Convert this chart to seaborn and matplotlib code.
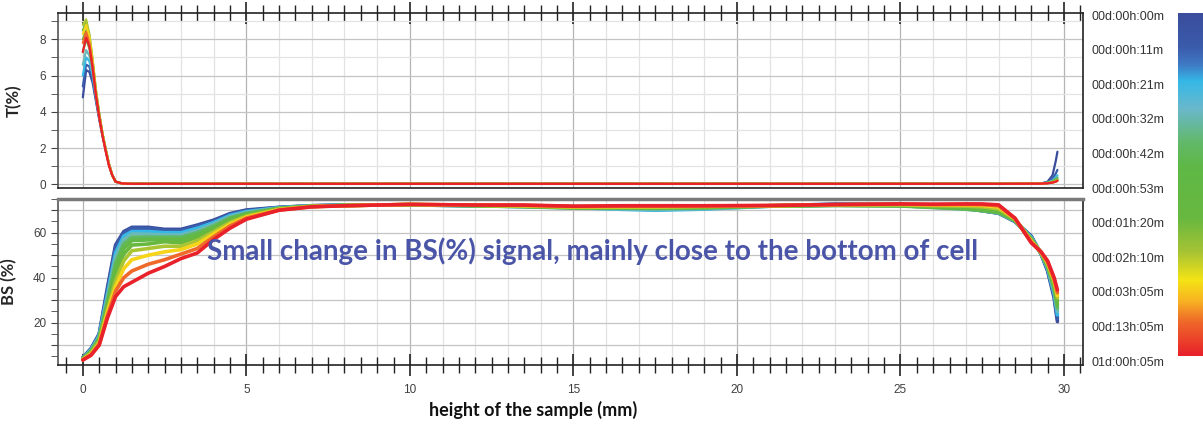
import numpy as np
import pandas as pd
import matplotlib
matplotlib.use("Agg")
import matplotlib.pyplot as plt
import seaborn as sns
from matplotlib.colors import LinearSegmentedColormap
from matplotlib.ticker import MultipleLocator, FuncFormatter

# scan times (colour scale, top = first scan)
time_labels = ["00d:00h:00m", "00d:00h:11m", "00d:00h:21m", "00d:00h:32m",
               "00d:00h:42m", "00d:00h:53m", "00d:01h:20m", "00d:02h:10m",
               "00d:03h:05m", "00d:13h:05m", "01d:00h:05m"]

# backscattering profiles, height in mm
bs_x = [0, 0.25, 0.5, 0.75, 1.0, 1.25, 1.5, 2.0, 2.5, 3.0, 3.5, 4.0, 4.5, 5.0,
        6.0, 7.0, 8.0, 10.0, 12.0, 13.5, 15.0, 16.5, 17.5, 19.0, 21.0, 23.0,
        25.0, 26.0, 27.0, 27.5, 28.0, 28.5, 29.0, 29.3, 29.5, 29.7, 29.8]
bs_00m = [4.5, 8.5, 15.0, 35.4, 54.5, 60.5, 62.4, 62.4, 61.5, 61.5, 63.4, 65.6, 68.5, 70.1, 71.3, 72.0, 72.3, 72.3, 72.1, 72.0, 71.6, 71.5, 71.5, 71.6, 72.0, 72.7, 72.6, 72.0, 71.0, 69.8, 68.7, 65.0, 58.5, 50.5, 43.0, 31.0, 20.5]
bs_11m = [4.4, 8.3, 14.6, 34.0, 53.5, 60.0, 62.0, 62.0, 61.0, 61.0, 63.0, 65.2, 68.2, 69.8, 71.2, 72.0, 72.3, 72.3, 72.1, 71.9, 71.5, 71.2, 71.0, 71.2, 71.9, 72.6, 72.5, 71.8, 70.9, 69.8, 68.7, 65.0, 58.3, 50.6, 43.5, 32.0, 22.0]
bs_21m = [4.3, 8.0, 14.2, 32.5, 51.0, 58.5, 60.5, 60.5, 60.0, 60.0, 62.0, 64.5, 67.7, 69.4, 71.1, 71.9, 72.2, 72.4, 72.0, 71.6, 71.2, 70.4, 70.0, 70.5, 71.8, 72.3, 72.2, 71.5, 70.7, 69.9, 68.8, 65.2, 58.0, 50.7, 44.0, 33.0, 23.5]
bs_32m = [4.2, 7.7, 13.7, 31.0, 49.0, 57.0, 59.5, 59.3, 59.0, 59.0, 61.0, 63.8, 67.2, 69.0, 71.0, 71.9, 72.2, 72.4, 72.0, 71.5, 71.0, 70.6, 70.3, 70.7, 71.8, 72.2, 72.0, 71.3, 70.5, 69.8, 68.8, 65.3, 57.7, 50.8, 44.5, 34.0, 25.0]
bs_42m = [4.1, 7.4, 13.2, 29.5, 46.5, 55.0, 58.0, 58.0, 58.0, 58.0, 60.0, 63.0, 66.6, 68.6, 70.9, 71.8, 72.2, 72.4, 72.0, 71.6, 71.0, 70.9, 70.8, 71.0, 71.8, 72.1, 71.9, 71.2, 70.5, 69.8, 68.9, 65.4, 57.4, 50.9, 45.0, 35.0, 26.5]
bs_53m = [4.0, 7.1, 12.7, 28.0, 44.0, 53.0, 56.5, 56.8, 57.0, 57.0, 59.0, 62.2, 66.0, 68.2, 70.8, 71.8, 72.1, 72.5, 72.1, 71.7, 71.1, 71.0, 71.0, 71.2, 71.9, 72.2, 72.0, 71.4, 70.8, 70.2, 69.2, 65.6, 57.1, 51.0, 45.3, 36.0, 28.0]
bs_01h20m = [3.9, 6.8, 12.2, 27.0, 41.0, 50.5, 54.5, 55.0, 56.0, 55.5, 58.0, 61.5, 65.3, 67.8, 70.6, 71.7, 72.1, 72.5, 72.1, 71.8, 71.3, 71.2, 71.2, 71.4, 71.9, 72.3, 72.2, 71.7, 71.3, 70.8, 69.8, 65.8, 56.8, 51.1, 45.7, 37.0, 29.5]
bs_02h10m = [3.8, 6.5, 11.6, 25.5, 38.5, 47.5, 52.0, 53.0, 54.0, 54.0, 56.5, 60.5, 64.6, 67.4, 70.5, 71.7, 72.1, 72.5, 72.2, 71.9, 71.4, 71.4, 71.4, 71.6, 72.0, 72.4, 72.4, 72.0, 71.8, 71.5, 70.6, 66.0, 56.5, 51.2, 46.2, 38.0, 31.0]
bs_03h05m = [3.6, 6.1, 11.0, 24.5, 36.0, 44.0, 48.0, 50.0, 51.5, 52.5, 55.0, 59.5, 63.8, 67.0, 70.3, 71.6, 72.0, 72.6, 72.2, 72.0, 71.5, 71.6, 71.6, 71.8, 72.0, 72.4, 72.6, 72.3, 72.3, 72.1, 71.4, 66.2, 56.2, 51.3, 46.6, 38.7, 32.0]
bs_13h05m = [3.5, 5.8, 10.5, 23.0, 34.0, 40.0, 43.0, 46.0, 48.0, 50.5, 53.0, 58.2, 63.0, 66.5, 70.1, 71.6, 72.0, 72.6, 72.3, 72.2, 71.7, 71.8, 71.8, 71.9, 72.1, 72.5, 72.7, 72.5, 72.6, 72.5, 72.0, 66.4, 55.8, 51.4, 47.0, 39.4, 33.3]
bs_01d00h05m = [3.4, 5.5, 10.0, 22.0, 31.6, 36.0, 38.0, 42.0, 45.0, 48.5, 51.0, 57.0, 62.0, 66.0, 70.0, 71.5, 72.0, 72.6, 72.3, 72.3, 71.8, 72.0, 72.0, 72.0, 72.1, 72.5, 72.8, 72.7, 72.8, 72.8, 72.4, 66.5, 55.5, 51.5, 47.5, 40.0, 34.5]

# transmission profiles
t_x = [0, 0.1, 0.2, 0.3, 0.4, 0.5, 0.6, 0.7, 0.8, 0.9, 1.0, 1.2, 1.5,
       28.0, 29.3, 29.5, 29.65, 29.75, 29.8]
t_00m = [4.8, 6.3, 6.2, 5.6, 4.6, 3.6, 2.7, 1.9, 1.1, 0.5, 0.15, 0.05, 0.03, 0.03, 0.05, 0.15, 0.5, 1.3, 1.8]
t_11m = [5.4, 6.6, 6.5, 5.8, 4.7, 3.7, 2.7, 1.9, 1.1, 0.5, 0.15, 0.05, 0.03, 0.03, 0.05, 0.1, 0.3, 0.6, 0.8]
t_21m = [6.0, 7.0, 6.8, 6.0, 4.8, 3.7, 2.7, 1.9, 1.1, 0.5, 0.15, 0.05, 0.03, 0.03, 0.05, 0.1, 0.2, 0.4, 0.5]
t_32m = [6.6, 7.4, 7.1, 6.2, 4.9, 3.8, 2.8, 1.9, 1.1, 0.5, 0.15, 0.05, 0.03, 0.03, 0.04, 0.1, 0.2, 0.3, 0.4]
t_42m = [7.3, 8.0, 7.5, 6.4, 5.0, 3.8, 2.8, 1.9, 1.1, 0.5, 0.15, 0.05, 0.03, 0.03, 0.04, 0.08, 0.15, 0.3, 0.35]
t_53m = [8.0, 8.5, 7.9, 6.6, 5.1, 3.9, 2.8, 1.9, 1.1, 0.5, 0.15, 0.05, 0.03, 0.03, 0.04, 0.08, 0.15, 0.25, 0.3]
t_01h20m = [8.5, 8.9, 8.2, 6.8, 5.2, 3.9, 2.8, 1.9, 1.1, 0.5, 0.15, 0.05, 0.03, 0.03, 0.04, 0.08, 0.12, 0.2, 0.25]
t_02h10m = [8.8, 9.1, 8.3, 6.9, 5.2, 3.9, 2.8, 1.9, 1.1, 0.5, 0.15, 0.05, 0.03, 0.03, 0.04, 0.07, 0.12, 0.2, 0.25]
t_03h05m = [8.3, 8.8, 8.1, 6.8, 5.1, 3.8, 2.8, 1.9, 1.1, 0.5, 0.15, 0.05, 0.03, 0.03, 0.04, 0.07, 0.1, 0.15, 0.2]
t_13h05m = [7.8, 8.4, 7.8, 6.6, 5.0, 3.8, 2.7, 1.9, 1.1, 0.5, 0.15, 0.05, 0.03, 0.03, 0.04, 0.06, 0.1, 0.15, 0.2]
t_01d00h05m = [7.3, 8.1, 7.6, 6.4, 4.9, 3.7, 2.7, 1.8, 1.0, 0.5, 0.15, 0.05, 0.03, 0.03, 0.04, 0.06, 0.1, 0.15, 0.2]

bs_profiles = [bs_00m, bs_11m, bs_21m, bs_32m, bs_42m, bs_53m,
               bs_01h20m, bs_02h10m, bs_03h05m, bs_13h05m, bs_01d00h05m]
t_profiles = [t_00m, t_11m, t_21m, t_32m, t_42m, t_53m,
              t_01h20m, t_02h10m, t_03h05m, t_13h05m, t_01d00h05m]

# long tables for seaborn
df_bs = pd.concat([pd.DataFrame({"height": bs_x, "BS": p, "time": lab})
                   for p, lab in zip(bs_profiles, time_labels)])
df_t = pd.concat([pd.DataFrame({"height": t_x, "T": p, "time": lab})
                  for p, lab in zip(t_profiles, time_labels)])

sns.set_style("white")
plt.rcParams["font.family"] = ["Liberation Sans", "DejaVu Sans"]

# rainbow scale like the instrument software
cmap = LinearSegmentedColormap.from_list("scan", [
    (0.0, "#3a4d9c"), (0.1, "#3b5bab"), (0.15, "#3f78c4"), (0.2, "#35b8e6"),
    (0.28, "#6ab9cc"), (0.38, "#62b868"), (0.45, "#5fb946"), (0.6, "#68b840"),
    (0.7, "#a8c434"), (0.78, "#f4e415"), (0.84, "#f8b422"), (0.9, "#ef6a2a"),
    (1.0, "#e8212a")])
colors = [cmap(i / (len(time_labels) - 1)) for i in range(len(time_labels))]

fig = plt.figure(figsize=(12.03, 4.26), dpi=100)
ax_t = fig.add_axes([0.0482, 0.5587, 0.852, 0.4108])
ax_bs = fig.add_axes([0.0482, 0.1432, 0.852, 0.3897])

sns.lineplot(data=df_t, x="height", y="T", hue="time", hue_order=time_labels,
             palette=colors, estimator=None, legend=False, linewidth=1.6, ax=ax_t)
sns.lineplot(data=df_bs, x="height", y="BS", hue="time", hue_order=time_labels,
             palette=colors, estimator=None, legend=False, linewidth=2.6, ax=ax_bs)

for ax in (ax_t, ax_bs):
    ax.set_xlim(-0.76, 30.58)
    ax.xaxis.set_major_locator(MultipleLocator(5))
    ax.xaxis.set_minor_locator(MultipleLocator(0.5))
    ax.set_xlabel("")
    ax.grid(which="major", axis="x", color="#b4b4b4", lw=0.9)
    for v in range(0, 31):
        if v % 5:
            ax.axvline(v, color="#e2e2e2", lw=0.9, zorder=0)
    ax.tick_params(axis="y", which="both", direction="out", length=5,
                   color="#444444", labelsize=8.5, labelcolor="#404040", left=True)
    ax.set_axisbelow(True)
    for s in ax.spines.values():
        s.set_color("#222222")
        s.set_linewidth(1.2)

# top panel: transmission
ax_t.set_ylim(-0.2, 9.45)
ax_t.yaxis.set_major_locator(MultipleLocator(2))
ax_t.yaxis.set_minor_locator(MultipleLocator(1))
ax_t.grid(which="major", axis="y", color="#c4c4c4", lw=0.9)
ax_t.grid(which="minor", axis="y", color="#e4e4e4", lw=0.9)
ax_t.tick_params(axis="x", which="both", direction="inout", top=True,
                 bottom=False, labelbottom=False, color="#222222")
ax_t.tick_params(axis="x", which="major", length=16, width=1.2)
ax_t.tick_params(axis="x", which="minor", length=11, width=1.0)
ax_t.set_ylabel("T(%)", fontsize=12, fontweight="bold", family="Lato")
ax_t.yaxis.set_label_coords(-0.035, 0.5)
ax_t.spines["left"].set_color("#555555")

# bottom panel: backscattering
ax_bs.set_ylim(1.2, 75)
ax_bs.yaxis.set_major_locator(MultipleLocator(10))
ax_bs.yaxis.set_minor_locator(MultipleLocator(5))
ax_bs.yaxis.set_major_formatter(
    FuncFormatter(lambda v, p: f"{v:.0f}" if v > 0 and int(round(v)) % 20 == 0 else ""))
ax_bs.grid(which="major", axis="y", color="#c4c4c4", lw=0.9)
ax_bs.tick_params(axis="x", which="both", direction="inout", bottom=True,
                  color="#222222", labelsize=8.5, labelcolor="#404040", pad=6)
ax_bs.tick_params(axis="x", which="major", length=16, width=1.2)
ax_bs.tick_params(axis="x", which="minor", length=11, width=1.0)
ax_bs.set_ylabel("BS (%)", fontsize=12, fontweight="bold", family="Lato")
ax_bs.yaxis.set_label_coords(-0.04, 0.5)
ax_bs.spines["top"].set_color("#7a7a7a")
ax_bs.spines["top"].set_linewidth(2.5)
ax_bs.spines["left"].set_color("#555555")

ax_bs.text(0.464, -0.27, "height of the sample (mm)", transform=ax_bs.transAxes,
           ha="center", va="center", fontsize=13, fontweight="bold",
           family="Lato", color="#111111")
ax_bs.text(15.6, 51.9, "Small change in BS(%) signal, mainly close to the bottom of cell",
           ha="center", va="center", fontsize=20, fontweight="bold",
           family="Lato", color="#4a55a8")

# colour scale with time labels
cax = fig.add_axes([0.9792, 0.1643, 0.025, 0.8052])
cax.imshow(np.linspace(0, 1, 256)[:, None], aspect="auto", cmap=cmap)
cax.axis("off")
for lab, y in zip(time_labels, np.linspace(0.9608, 0.1486, len(time_labels))):
    fig.text(0.9077, y, lab, ha="left", va="center", fontsize=9, color="#333333")

fig.savefig("out.png", dpi=100)
